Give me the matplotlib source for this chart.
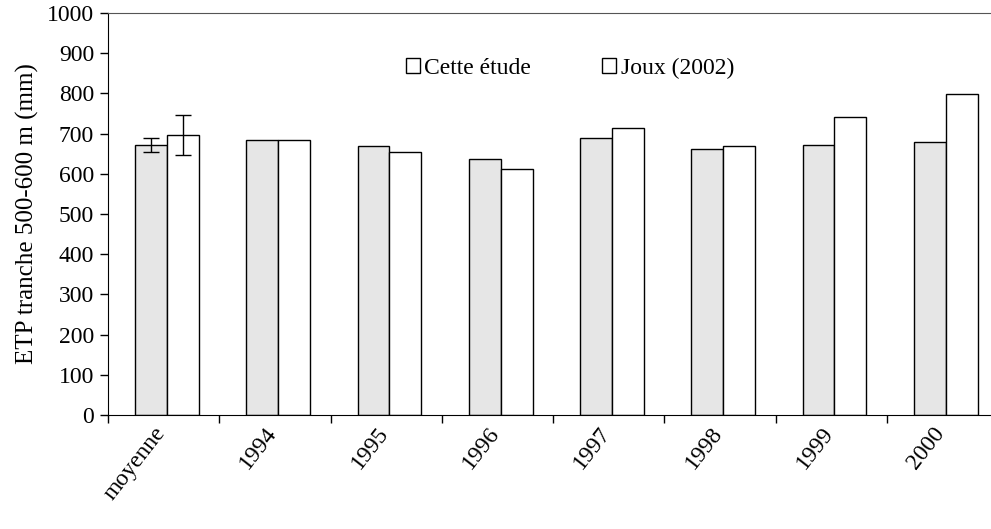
import matplotlib.pyplot as plt
import matplotlib.transforms as mtransforms
from matplotlib.patches import Patch
import numpy as np

categories = ['moyenne', '1994', '1995', '1996', '1997', '1998', '1999', '2000']
cette_etude = [672, 683, 668, 637, 689, 661, 672, 678]
joux_2002 = [697, 683, 653, 612, 714, 668, 741, 798]
# error bars only on the mean
cette_err = [17, 0, 0, 0, 0, 0, 0, 0]
joux_err = [50, 0, 0, 0, 0, 0, 0, 0]

plt.rcParams['font.family'] = ['Liberation Serif', 'DejaVu Serif']

fig = plt.figure(figsize=(9.91, 5.29), dpi=100)
ax = fig.add_axes([108 / 991, 114 / 529, 890 / 991, 402 / 529])

x = np.arange(len(categories)) + 0.5
w = 0.286
off = 0.03
ax.bar(x - w / 2 + off, cette_etude, w, color='#e6e6e6', edgecolor='black', linewidth=1.0)
ax.bar(x + w / 2 + off, joux_2002, w, color='white', edgecolor='black', linewidth=1.0)
ax.errorbar(x[:1] - w / 2 + off, cette_etude[:1], yerr=cette_err[:1], fmt='none',
            ecolor='black', elinewidth=1, capsize=6)
ax.errorbar(x[:1] + w / 2 + off, joux_2002[:1], yerr=joux_err[:1], fmt='none',
            ecolor='black', elinewidth=1, capsize=6)

ax.set_xlim(0, len(categories))
ax.set_ylim(0, 1000)
ax.set_yticks(np.arange(0, 1001, 100))
ax.tick_params(axis='y', labelsize=17, length=6, direction='out', width=1, pad=4)
ax.set_xticks(np.arange(0, len(categories) + 1))
ax.set_xticklabels([])
ax.tick_params(axis='x', which='major', length=6, direction='out', width=1)
ax.set_xticks(x, minor=True)
ax.set_xticklabels(categories, minor=True, rotation=52, ha='right', va='top',
                   rotation_mode='anchor', fontsize=17)
ax.tick_params(axis='x', which='minor', length=0, pad=6)
shift = mtransforms.ScaledTranslation(-10 / 100, 0, fig.dpi_scale_trans)
for lab in ax.get_xticklabels(minor=True):
    lab.set_transform(lab.get_transform() + shift)

ax.spines['right'].set_visible(False)
ax.spines['top'].set_color('#555555')
ax.set_ylabel('ETP tranche 500-600 m (mm)', fontsize=18, labelpad=6)

handles = [Patch(facecolor='white', edgecolor='black', linewidth=1.0),
           Patch(facecolor='white', edgecolor='black', linewidth=1.0)]
fig.legend(handles, ['Cette étude', 'Joux (2002)'], loc='center',
           bbox_to_anchor=(570 / 991, 1 - 68 / 529), ncol=2, frameon=False,
           fontsize=17, handlelength=0.6, handleheight=0.6, handletextpad=0.2,
           columnspacing=3.0)

fig.savefig('out.png', dpi=100)
